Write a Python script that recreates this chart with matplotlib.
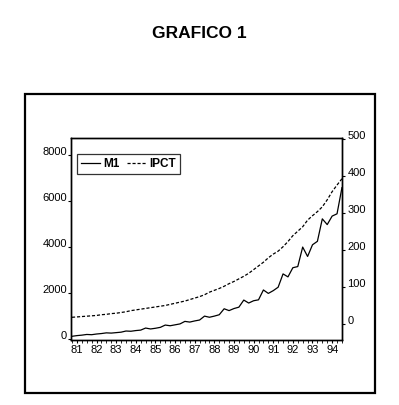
import numpy as np
import matplotlib.pyplot as plt
from matplotlib.patches import Rectangle
from matplotlib.ticker import FixedLocator

plt.rcParams['font.family'] = ['Liberation Sans', 'DejaVu Sans']

# quarterly data 1981Q1 - 1994Q4
years = list(range(1981, 1995))
year_labels = [str(y)[2:] for y in years]

m1 = [110, 140, 160, 190,
      180, 210, 230, 260,
      250, 270, 290, 340,
      330, 360, 380, 470,
      430, 460, 500, 600,
      570, 610, 650, 760,
      730, 780, 820, 990,
      940, 990, 1050, 1310,
      1230, 1320, 1380, 1690,
      1560, 1660, 1700, 2130,
      1980, 2100, 2250, 2830,
      2700, 3100, 3150, 4000,
      3590, 4100, 4250, 5230,
      4980, 5350, 5450, 6590]

ipct = [17, 18, 19, 20,
        21, 22, 24, 25,
        27, 28, 30, 32,
        35, 37, 39, 41,
        43, 45, 47, 49,
        52, 55, 58, 61,
        65, 69, 73, 78,
        85, 90, 95, 101,
        108, 114, 121, 128,
        136, 146, 156, 166,
        178, 188, 196, 208,
        222, 238, 250, 262,
        280, 292, 303, 316,
        335, 357, 375, 392]

t = np.array([y + q / 4 for y in years for q in range(4)])

fig = plt.figure(figsize=(3.99, 4.05), dpi=100)

# outer frame
fig.patches.append(Rectangle((0.0627, 0.0296), 0.877, 0.738, transform=fig.transFigure,
                             fill=False, edgecolor='black', linewidth=1.6))

fig.text(0.5, 0.918, "GRAFICO 1", ha='center', va='center', fontsize=12.5, fontweight='bold')

ax = fig.add_axes([0.178, 0.160, 0.679, 0.499])
ax2 = ax.twinx()

l1, = ax.plot(t, m1, color='black', linewidth=0.9, label='M1')
l2, = ax2.plot(t, ipct, color='black', linewidth=0.9, linestyle=(0, (2.5, 1.5)), label='IPCT')

ax.set_xlim(1980.95, 1994.75)
ax.set_ylim(-60, 8750)
ax2.set_ylim(-45, 502)

ax.set_yticks([0, 2000, 4000, 6000, 8000])
ax2.set_yticks([0, 100, 200, 300, 400, 500])
ax.set_xticks([y + 0.25 for y in years])
ax.set_xticklabels(year_labels)
ax.xaxis.set_minor_locator(FixedLocator(t))

ax.tick_params(axis='x', which='major', length=2.5, width=0.8, labelsize=8, pad=1)
ax.tick_params(axis='x', which='minor', length=2, width=0.6)
ax.tick_params(axis='y', length=2, width=0.8, labelsize=8, pad=1)
ax2.tick_params(axis='y', length=2, width=0.8, labelsize=8, pad=2)

for lab in ax.get_yticklabels() + ax2.get_yticklabels():
    lab.set_va('baseline')

for a in (ax, ax2):
    for s in a.spines.values():
        s.set_linewidth(1.0)

leg = ax.legend(handles=[l1, l2], loc='upper left', ncol=2, frameon=True, fancybox=False,
                edgecolor='black', fontsize=8.5, handlelength=1.6, handletextpad=0.3,
                columnspacing=0.6, borderpad=0.35, bbox_to_anchor=(0.0, 0.95))
leg.get_frame().set_linewidth(0.9)
for txt in leg.get_texts():
    txt.set_fontweight('bold')

fig.savefig("out.png", dpi=100)
